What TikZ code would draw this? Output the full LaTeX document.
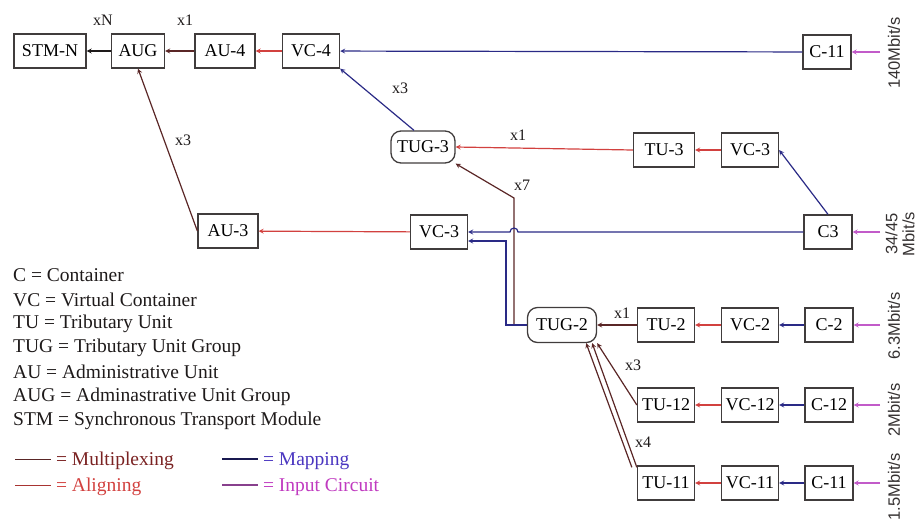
\documentclass[tikz,border=0pt]{standalone}
\usepackage{fontspec}
\setmainfont{Liberation Serif}
\setsansfont{Liberation Sans}
\usetikzlibrary{arrows,calc}
\definecolor{ink}   {HTML}{1E1A1A}
\definecolor{mux}   {HTML}{5A2626}
\definecolor{aln}   {HTML}{D2413F}
\definecolor{map}   {HTML}{2A2A86}
\definecolor{inp}   {HTML}{C25BC9}
\definecolor{muxtxt}{HTML}{7A2222}
\definecolor{maptxt}{HTML}{4A36C0}
\definecolor{inptxt}{HTML}{C03AC0}
\tikzset{
  >=stealth,
  every node/.style={font=\fontsize{18}{20}\selectfont},
  % --- nodes
  unit/.style = {draw=ink!85, line width=1.3pt, minimum width=57pt, minimum height=34pt,
                 inner sep=1.5pt},
  cont/.style = {unit, minimum width=48pt},
  grp/.style  = {unit, rounded corners=10pt, minimum width=64pt, minimum height=32pt},
  mult/.style = {font=\fontsize{16}{18}\selectfont, text=ink},
  rate/.style = {rotate=90, align=center, font=\sffamily\fontsize{16.5}{17}\selectfont, text=ink!90},
  key/.style  = {anchor=west, inner sep=0pt, text=ink, font=\fontsize{19.5}{22}\selectfont},
  % --- edges
  e/.style    = {-stealth, line width=1.2pt, draw=ink},
  emux/.style = {e, draw=mux},
  ealn/.style = {e, draw=aln},
  emap/.style = {e, draw=map},
  ein/.style  = {e, draw=inp},
}
\newcommand{\keyline}[1]{\textcolor{#1}{\rule[0.3em]{36pt}{1.3pt}}}

\begin{document}
\begin{tikzpicture}[x=1pt,y=-1pt]
  \useasboundingbox (0,0) rectangle (924,523);
  % top row
  \node[unit,minimum width=72pt] (stm) at (50,51) {STM-N};
  \node[unit,minimum width=53pt] (aug) at (138,51) {AUG};
  \node[unit,minimum width=60pt] (au4) at (225,51) {AU-4};
  \node[unit] (vc4) at (311,51) {VC-4};
  \node[cont] (c140) at (827,52) {C-11};
  % 34/45 Mbit/s branch
  \node[grp] (tug3) at (423,147) {TUG-3};
  \node[unit,minimum width=61pt] (tu3) at (664,150) {TU-3};
  \node[unit] (vc3a) at (750,150) {VC-3};
  \node[cont] (c3) at (828,232) {C3};
  \node[unit] (vc3b) at (439,232) {VC-3};
  \node[unit,minimum width=60pt] (au3) at (228,231) {AU-3};
  % low order rows
  \node[grp,minimum width=69pt,minimum height=35pt] (tug2) at (562,325) {TUG-2};
  \node[unit] (tu2) at (666,325) {TU-2};
  \node[unit] (vc2) at (750,325) {VC-2};
  \node[cont] (c2) at (829,325) {C-2};
  \node[unit] (tu12) at (666,405) {TU-12};
  \node[unit] (vc12) at (750,405) {VC-12};
  \node[cont] (c12) at (829,405) {C-12};
  \node[unit] (tu11) at (666,483) {TU-11};
  \node[unit] (vc11) at (750,483) {VC-11};
  \node[cont] (c11) at (829,483) {C-11};
  % input circuits
  \coordinate (in140) at (880,52);
  \coordinate (in34) at (880,232);
  \coordinate (in6) at (880,325);
  \coordinate (in2) at (880,405);
  \coordinate (in15) at (880,483);
  \node[rate] (r140) at (894,53) {140Mbit/s};
  \node[rate] (r34) at (900,234) {34/45\\Mbit/s};
  \node[rate] (r6) at (894,326) {6.3Mbit/s};
  \node[rate] (r2) at (894,410) {2Mbit/s};
  \node[rate] (r15) at (894,487) {1.5Mbit/s};
  % multiplex factors
  \node[mult] (mN) at (103,20) {xN};
  \node[mult] (m1a) at (185,20) {x1};
  \node[mult] (m3a) at (400,88) {x3};
  \node[mult] (m3b) at (183,140) {x3};
  \node[mult] (m1b) at (518,135) {x1};
  \node[mult] (m7) at (522,185) {x7};
  \node[mult] (m1c) at (622,313) {x1};
  \node[mult] (m3c) at (633,365) {x3};
  \node[mult] (m4) at (643,442) {x4};

  \draw[e] (aug)--(stm); \draw[emux] (au4)--(aug); \draw[ealn] (vc4)--(au4);
  \draw[emap] (c140)--(vc4);
  \draw[emap] ([xshift=-9pt]tug3.north)--(vc4.south east);
  \draw[ealn] (tu3.west)--(tug3.east); \draw[ealn] (vc3a)--(tu3);
  \draw[emap] (c3.north)--(vc3a.east);
  \draw[emux] (tug2.west)--(514,325)--(514,198)--(tug3.south east);
  \draw[emap] (c3.west)--(518,232) arc[start angle=0,end angle=180,radius=4pt]--(vc3b.east);
  \draw[emap] (tug2.west)--(506,325)--(506,241)--([yshift=-9pt]vc3b.east);
  \draw[ealn] (vc3b)--(au3);
  \draw[emux] (au3.west)--(aug.south);
  \draw[emux] (tu2)--(tug2);
  \draw[emux] (tu12.west)--(tug2.south east);
  \draw[emux] ([yshift=-2pt]tu11.north west)--([xshift=-5pt]tug2.south east);
  \draw[emux] ([xshift=-5pt,yshift=-2pt]tu11.north west)--([xshift=-11pt]tug2.south east);
  \draw[ealn] (vc2)--(tu2); \draw[ealn] (vc12)--(tu12); \draw[ealn] (vc11)--(tu11);
  \draw[emap] (c2)--(vc2); \draw[emap] (c12)--(vc12); \draw[emap] (c11)--(vc11);
  \draw[ein] (in140)--(c140); \draw[ein] (in34)--(c3); \draw[ein] (in6)--(c2);
  \draw[ein] (in2)--(c12); \draw[ein] (in15)--(c11);

  % legend
  \node[key] (k1) at (13,275) {C = Container};
  \node[key] (k2) at (13,300) {VC = Virtual Container};
  \node[key] (k3) at (13,324) {TU = Tributary Unit};
  \node[key] (k4) at (13,348) {TUG = Tributary Unit Group};
  \node[key] (k5) at (13,372) {AU = Administrative Unit};
  \node[key] (k6) at (13,397) {AUG = Adminastrative Unit Group};
  \node[key] (k7) at (13,421) {STM = Synchronous Transport Module};
  \node[key] (kmux) at (15,461) {\keyline{mux} \textcolor{muxtxt}{= Multiplexing}};
  \node[key] (kaln) at (15,487) {\keyline{aln!80!black} \textcolor{aln}{= Aligning}};
  \node[key] (kmap) at (222,461) {\keyline{map!60!black} \textcolor{maptxt}{= Mapping}};
  \node[key] (kinp) at (222,487) {\keyline{inp!70!black} \textcolor{inptxt}{= Input Circuit}};
\end{tikzpicture}
\end{document}
